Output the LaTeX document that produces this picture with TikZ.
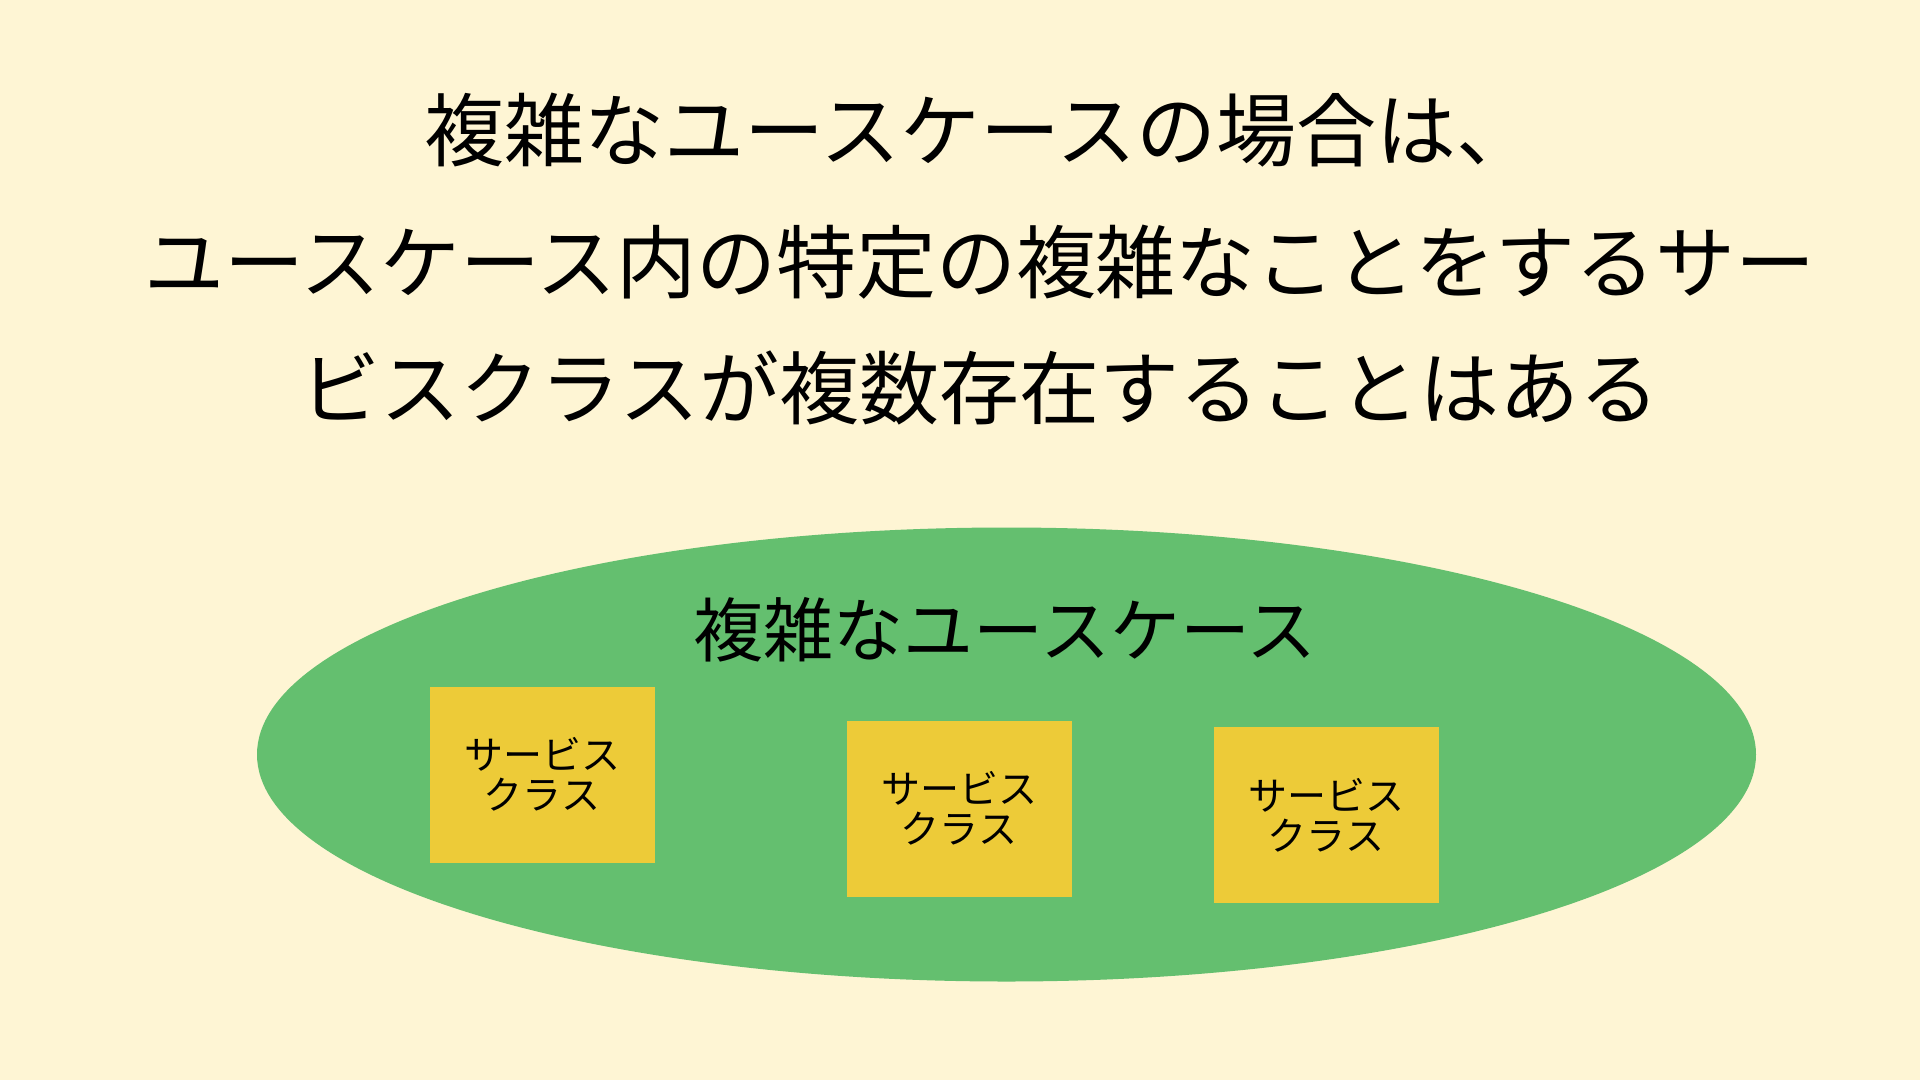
\documentclass[tikz,border=0pt]{standalone}
\usepackage{fontspec}
\setmainfont{Noto Sans CJK JP}
\newfontfamily\jpfont{Noto Sans CJK JP}
\definecolor{bgcream}{HTML}{FEF5D4}
\definecolor{usegreen}{HTML}{64BF6F}
\definecolor{svcyellow}{HTML}{EDCB38}
\tikzset{
  titleline/.style={inner sep=0pt, font=\jpfont\fontsize{80}{95}\selectfont, text=black},
  svcbox/.style={fill=svcyellow, draw=none, minimum width=225pt, minimum height=176pt, inner sep=0pt,
    align=center, font=\jpfont\fontsize{39}{40}\selectfont, text=black},
}
\begin{document}
\begin{tikzpicture}[x=1pt,y=-1pt]
\fill[bgcream] (0,0) rectangle (1920,1080);
\useasboundingbox (0,0) rectangle (1920,1080);
\node[titleline] (t1) at (980,130) {複雑なユースケースの場合は、};
\node[titleline] (t2) at (980,262) {ユースケース内の特定の複雑なことをするサー};
\node[titleline] (t3) at (980,388) {ビスクラスが複数存在することはある};
\fill[usegreen] (1006.5,754.5) ellipse [x radius=749.5, y radius=227];
\node[inner sep=0pt, font=\jpfont\fontsize{70}{80}\selectfont] (uc) at (1005,630) {複雑なユースケース};
\node[svcbox] (s1) at (542,774.5) {サービス\\クラス};
\node[svcbox] (s2) at (959,808.5) {サービス\\クラス};
\node[svcbox] (s3) at (1326,815) {サービス\\クラス};
\end{tikzpicture}
\end{document}
